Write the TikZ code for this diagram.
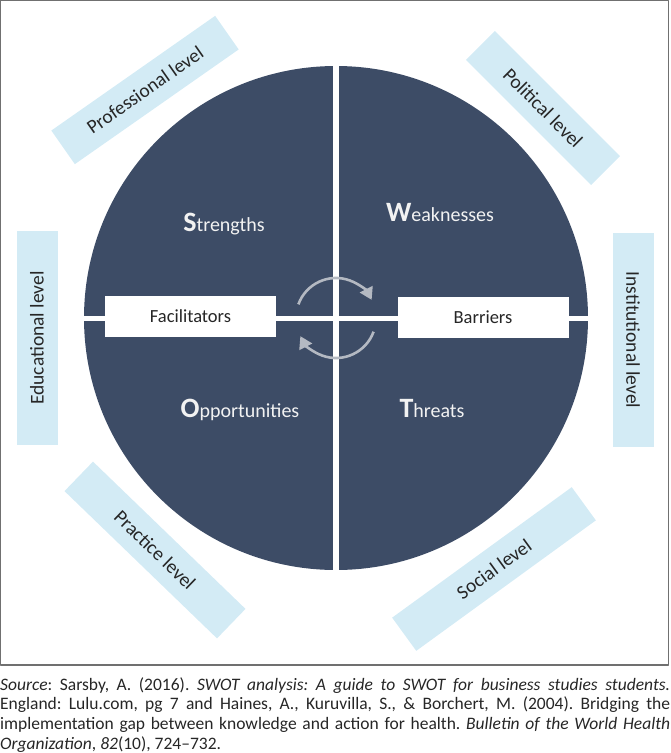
\documentclass[tikz,border=0pt]{standalone}
\usepackage{fontspec}
\setmainfont{Carlito}
\usetikzlibrary{arrows.meta}

\definecolor{swotblue}{HTML}{3D4C66}
\definecolor{levelblue}{HTML}{D3EBF5}
\definecolor{cyclegray}{HTML}{B4B9C2}
\definecolor{framegray}{HTML}{707070}

\begin{document}
\frenchspacing
\begin{tikzpicture}[x=1pt, y=-1pt, line cap=round, line join=round,
  levelband/.style={fill=levelblue, minimum width=#1, minimum height=41pt,
    inner sep=0pt, text=black!85, font=\fontsize{19.5}{21}\selectfont},
  sidebox/.style={fill=white, minimum width=171pt, minimum height=41pt,
    inner sep=0pt, text=black!85, font=\fontsize{18.5}{20}\selectfont},
  quadlabel/.style={anchor=base, text=white!95!black, inner sep=0pt,
    font=\fontsize{20}{24}\selectfont},
  cyclearrow/.style={cyclegray, line width=2.6pt, line cap=butt,
    -{Triangle[length=12pt, width=14pt]}}]

\useasboundingbox (0,0) rectangle (670,753);

% --- Cornice ---
\draw[framegray, line width=1.4pt] (0.7,0.7) rectangle (668.6,665);

% --- Cerchio SWOT ---
\coordinate (hub) at (336,318);
\fill[swotblue] (hub) circle (252);
\draw[white, line width=6pt, line cap=butt] (336,60) -- (336,576);
\draw[white, line width=5pt, line cap=butt] (80,318.5) -- (592,318.5);

% --- Quadranti ---
\node[quadlabel] (strengths) at (224,231)
  {{\fontsize{28}{28}\selectfont\bfseries S}trengths};
\node[quadlabel] (weaknesses) at (440,221)
  {{\fontsize{28}{28}\selectfont\bfseries W}eaknesses};
\node[quadlabel] (opportunities) at (240,417)
  {{\fontsize{28}{28}\selectfont\bfseries O}pportunities};
\node[quadlabel] (threats) at (432,417)
  {{\fontsize{28}{28}\selectfont\bfseries T}hreats};

% --- Facilitatori e barriere ---
\node[sidebox] (facilitators) at (190.5,316.5) {Facilitators};
\node[sidebox] (barriers) at (483,317) {Barriers};

% --- Frecce cicliche ---
\draw[cyclearrow] ([shift={(-160:40)}]hub) arc (-160:-27:40);
\draw[cyclearrow] ([shift={(20:40)}]hub) arc (20:153:40);

% --- Livelli ---
\node[levelband=200pt, rotate=35] (professional) at (145,90) {Professional level};
\node[levelband=177pt, rotate=-45] (political) at (543,108) {Political level};
\node[levelband=214pt, rotate=90] (educational) at (37,338) {Educational level};
\node[levelband=214pt, rotate=-90] (institutional) at (633,340) {Institutional level};
\node[levelband=212pt, rotate=-44] (practice) at (155,550) {Practice level};
\node[levelband=222pt, rotate=36] (social) at (494,569) {Social level};

% --- Fonte ---
\node[anchor=north west, inner sep=0pt, text width=670pt, align=justify,
  text=black!85, font=\fontsize{17.5}{19.7}\selectfont] (source) at (0,677)
  {\textit{Source}: Sarsby, A. (2016). \textit{SWOT analysis: A guide to SWOT for business studies students.}\linebreak
  England: Lulu.com, pg 7 and Haines, A., Kuruvilla, S., \& Borchert, M. (2004). Bridging the\linebreak
  implementation gap between knowledge and action for health. \textit{Bulletin of the World Health\linebreak
  Organization}, \textit{82}(10), 724--732.};
\end{tikzpicture}
\end{document}
